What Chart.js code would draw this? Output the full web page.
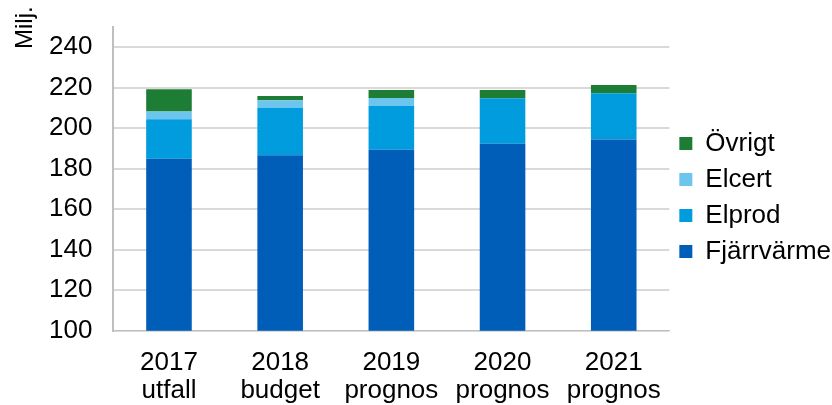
<!DOCTYPE html>
<html>
<head>
<meta charset="utf-8">
<script src="https://cdn.jsdelivr.net/npm/chart.js@4/dist/chart.umd.min.js"></script>
<style>
  html, body { margin: 0; padding: 0; background: #fff; }
  #wrap { width: 832px; height: 405px; }
</style>
</head>
<body>
<div id="wrap"><canvas id="chart"></canvas></div>
<script>
const categories = [['2017', 'utfall'], ['2018', 'budget'], ['2019', 'prognos'], ['2020', 'prognos'], ['2021', 'prognos']]
const fjarrvarme = [184.9, 186.7, 189.4, 192.4, 194.4]
const elprod = [19.5, 23.4, 21.7, 22.4, 22.9]
const elcert = [3.9, 3.7, 3.8, 0, 0]
const ovrigt = [11.0, 2.1, 4.0, 4.1, 4.1]
const yTicks = [100, 120, 140, 160, 180, 200, 220, 240]

Chart.defaults.font.family = '"Liberation Sans", Arial, sans-serif'
Chart.defaults.font.size = 26
Chart.defaults.color = '#000'

// unit label sits above the axis, rotated like in Excel
const unitTitle = {
  id: 'unitTitle',
  afterLayout(chart) {
    // put the legend block where the original has it (centred around y≈197)
    const lg = chart.legend
    lg.top = 27
    lg.bottom = 368
  },
  afterDraw(chart) {
    const { ctx } = chart
    ctx.save()
    ctx.font = '24px "Liberation Sans", Arial, sans-serif'
    ctx.fillStyle = '#000'
    ctx.translate(32, 49)
    ctx.rotate(-Math.PI / 2)
    ctx.textAlign = 'left'
    ctx.textBaseline = 'alphabetic'
    ctx.fillText('Milj.', 0, 0)
    ctx.restore()
  }
}

const bar = (label, values, color) => ({
  label,
  data: values,
  backgroundColor: color,
  barPercentage: 0.41,
  categoryPercentage: 1
})

new Chart(document.getElementById('chart'), {
  type: 'bar',
  plugins: [unitTitle],
  data: {
    labels: categories,
    datasets: [
      bar('Fjärrvärme', fjarrvarme, '#005eb8'),
      bar('Elprod', elprod, '#009cde'),
      bar('Elcert', elcert, '#6cc5ec'),
      bar('Övrigt', ovrigt, '#1e7d35')
    ]
  },
  options: {
    responsive: true,
    maintainAspectRatio: false,
    animation: false,
    layout: { padding: { top: 27, right: -9, left: 28, bottom: -18 } },
    plugins: {
      tooltip: { enabled: false },
      legend: {
        position: 'right',
        reverse: true,
        labels: { boxWidth: 13, boxHeight: 13, padding: 10, color: '#000', font: { size: 26 } }
      }
    },
    scales: {
      x: {
        stacked: true,
        grid: { display: false, drawTicks: false },
        border: { color: '#bfbfbf', width: 1 },
        ticks: { padding: 18, color: '#000', maxRotation: 0, font: { size: 26, lineHeight: 1.08 } }
      },
      y: {
        stacked: true,
        min: 100,
        max: 250,
        afterBuildTicks: axis => { axis.ticks = yTicks.map(v => ({ value: v })) },
        afterFit: axis => { axis.paddingTop = 0 },
        grid: { color: '#d9d9d9', lineWidth: 2, drawTicks: false },
        border: { color: '#bfbfbf', width: 2 },
        ticks: { padding: 21, color: '#000' }
      }
    }
  }
})
</script>
</body>
</html>
